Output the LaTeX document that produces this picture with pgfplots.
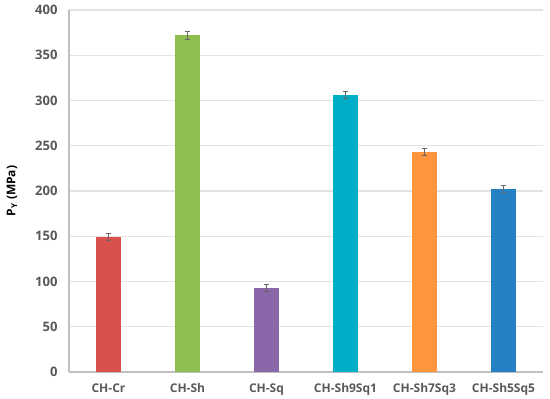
\documentclass[border=0pt]{standalone}
\usepackage{pgfplots}
\pgfplotsset{compat=1.18}
\usepackage{fontspec}
\setmainfont{Open Sans}
\definecolor{txt}{HTML}{595959}
\definecolor{axl}{HTML}{BFBFBF}
\definecolor{grd}{HTML}{E3E3E3}
\definecolor{cr}{HTML}{DA504D}
\definecolor{sh}{HTML}{8EBE4F}
\definecolor{sq}{HTML}{8A67A8}
\definecolor{sa}{HTML}{00AEC8}
\definecolor{sb}{HTML}{FF963E}
\definecolor{sc}{HTML}{2581C3}
\pgfplotsset{errb/.style={draw=none,
    error bars/y dir=both, error bars/y explicit,
    error bars/error mark options={rotate=90, mark size=2pt, draw=black!60, line width=0.5pt},
    error bars/error bar style={draw=black!60, line width=0.5pt}}}
\begin{document}
\begin{tikzpicture}
\begin{axis}[
    scale only axis,
    width=355.5pt, height=271.5pt,
    ymin=0, ymax=400, ytick={0,50,...,400},
    xmin=-0.5, xmax=5.5,
    xtick={0,...,5},
    xticklabels={CH-Cr, CH-Sh, CH-Sq, CH-Sh9Sq1, CH-Sh7Sq3, CH-Sh5Sq5},
    axis x line*=bottom, axis y line*=left,
    axis line style={axl, line width=1pt, -},
    major tick length=0pt,
    ymajorgrids, grid style={grd, line width=0.8pt},
    font=\fontsize{9}{11}\selectfont\bfseries,
    tick label style={text=txt},
    yticklabel style={font=\fontsize{9.8}{11}\selectfont\bfseries, xshift=-5pt},
    /pgf/number format/assume math mode=true,
    ylabel={P\textsubscript{Y} (MPa)},
    ylabel style={text=txt, font=\fontsize{8}{9}\selectfont\bfseries},
    every axis y label/.style={at={(axis description cs:-0.12,0.5)}, rotate=90, anchor=center},
    xticklabel style={yshift=-5pt},
    ybar, bar width=18.75pt, bar shift=0pt,
]
\addplot[errb, fill=cr] coordinates {(0,149) +- (0,4)};
\addplot[errb, fill=sh] coordinates {(1,372) +- (0,4)};
\addplot[errb, fill=sq] coordinates {(2,93) +- (0,4)};
\addplot[errb, fill=sa] coordinates {(3,306) +- (0,4)};
\addplot[errb, fill=sb] coordinates {(4,243) +- (0,4)};
\addplot[errb, fill=sc] coordinates {(5,202) +- (0,4)};
\end{axis}
\pgfresetboundingbox
\path (-51.75pt,-20.25pt) rectangle (360.75pt,279pt);
\end{tikzpicture}
\end{document}
